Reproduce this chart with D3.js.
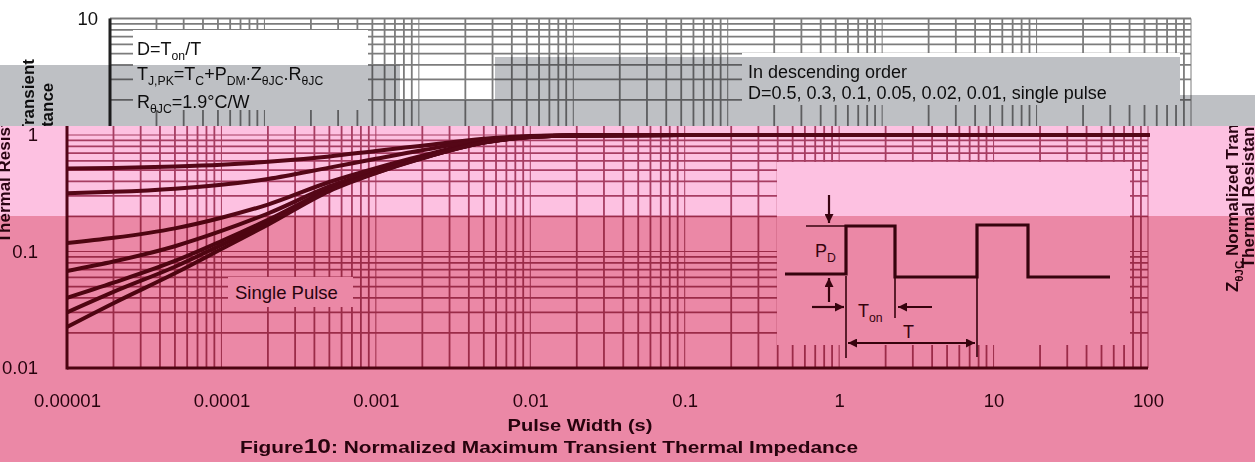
<!DOCTYPE html>
<html>
<head>
<meta charset="utf-8">
<script src="https://cdn.jsdelivr.net/npm/d3@7"></script>
<style>
  html, body { margin: 0; padding: 0; background: #fff; }
  svg { display: block; font-family: "Liberation Sans", Arial, sans-serif; }
</style>
</head>
<body>
<svg id="chart" width="1255" height="462"></svg>
<script>
// ---- data -------------------------------------------------------------
// pulse widths (s) where each curve is sampled
const pulseWidths = [1e-5, 2e-5, 5e-5, 1e-4, 2e-4, 5e-4, 1e-3, 2e-3, 5e-3, 1e-2, 2e-2, 1e-1, 1, 10, 100];
// normalized transient thermal impedance, one array per duty cycle
const zD050    = [0.515, 0.522, 0.537, 0.556, 0.588, 0.655, 0.730, 0.810, 0.930, 0.980, 0.995, 1, 1, 1, 1];
const zD030    = [0.316, 0.325, 0.346, 0.374, 0.419, 0.525, 0.625, 0.740, 0.900, 0.972, 0.993, 1, 1, 1, 1];
const zD010    = [0.118, 0.131, 0.158, 0.195, 0.253, 0.395, 0.520, 0.665, 0.874, 0.964, 0.991, 1, 1, 1, 1];
const zD005    = [0.068, 0.082, 0.111, 0.150, 0.212, 0.362, 0.495, 0.648, 0.867, 0.962, 0.990, 1, 1, 1, 1];
const zD002    = [0.040, 0.054, 0.083, 0.123, 0.187, 0.342, 0.480, 0.636, 0.863, 0.961, 0.990, 1, 1, 1, 1];
const zD001    = [0.030, 0.045, 0.074, 0.114, 0.178, 0.336, 0.474, 0.633, 0.861, 0.960, 0.990, 1, 1, 1, 1];
const zSingle  = [0.0225, 0.036, 0.065, 0.105, 0.170, 0.330, 0.470, 0.630, 0.860, 0.960, 0.990, 1, 1, 1, 1];
const dutyNames = ["0.5", "0.3", "0.1", "0.05", "0.02", "0.01", "single pulse"];
const seriesValues = [zD050, zD030, zD010, zD005, zD002, zD001, zSingle];

const xTickValues = [1e-5, 1e-4, 1e-3, 1e-2, 1e-1, 1, 10, 100];
const xTickLabels = ["0.00001", "0.0001", "0.001", "0.01", "0.1", "1", "10", "100"];
const yTickValues = [0.01, 0.1, 1, 10];
const yTickLabels = ["0.01", "0.1", "1", "10"];

// ---- layout -----------------------------------------------------------
const svg = d3.select("#chart");
const W = +svg.attr("width"), H = +svg.attr("height");
const plot = { left: 67, right: 1148, top: 18.5, bottom: 368 };
const splitY = 126;      // boundary between the top band and the pink body
const topShift = 43;     // horizontal offset of the top band

const x = d3.scaleLog().domain([1e-5, 100]).range([plot.left, plot.right]);
const y = d3.scaleLog().domain([0.01, 10]).range([plot.bottom, plot.top]);

function minorValues(e0, e1) {
  const out = [];
  for (let e = e0; e < e1; e++) for (let k = 2; k <= 9; k++) out.push(k * Math.pow(10, e));
  return out;
}

// rich text helper: parts = [[string, isSubscript], ...]
function rich(textSel, parts, size) {
  let sub = false;
  parts.forEach(([s, isSub]) => {
    const t = textSel.append("tspan").text(s);
    if (isSub && !sub) { t.attr("dy", size * 0.3).attr("font-size", size * 0.68); sub = true; }
    else if (isSub) { t.attr("font-size", size * 0.68); }
    else if (!isSub && sub) { t.attr("dy", -size * 0.3); sub = false; }
  });
  return textSel;
}

svg.append("rect").attr("width", W).attr("height", H).attr("fill", "#fff");

const defs = svg.append("defs");
defs.append("clipPath").attr("id", "clipTop")
  .append("rect").attr("x", 0).attr("y", 0).attr("width", W).attr("height", splitY);
defs.append("clipPath").attr("id", "clipBody")
  .append("rect").attr("x", 0).attr("y", splitY).attr("width", W).attr("height", H - splitY);
defs.append("clipPath").attr("id", "clipPlot")
  .append("rect").attr("x", plot.left).attr("y", plot.top - 4)
  .attr("width", plot.right - plot.left + 2).attr("height", plot.bottom - plot.top + 4);
defs.append("marker").attr("id", "arrow")
  .attr("viewBox", "0 0 10 10").attr("refX", 10).attr("refY", 5)
  .attr("markerWidth", 9).attr("markerHeight", 9).attr("markerUnits", "userSpaceOnUse")
  .attr("orient", "auto-start-reverse")
  .append("path").attr("d", "M0,0 L10,5 L0,10 z").attr("fill", "#3a0414");

// ---- the chart itself (grid, curves, frame, axes, y title) -------------
function drawChart(g, pal, opts) {
  const grid = g.append("g").attr("class", "grid");
  grid.selectAll("line.vmin").data(minorValues(-5, 2)).join("line").attr("class", "vmin")
    .attr("x1", d => x(d)).attr("x2", d => x(d)).attr("y1", plot.top).attr("y2", plot.bottom)
    .attr("stroke", pal.grid).attr("stroke-width", 1.8);
  grid.selectAll("line.vmaj").data(xTickValues).join("line").attr("class", "vmaj")
    .attr("x1", d => x(d)).attr("x2", d => x(d)).attr("y1", plot.top).attr("y2", plot.bottom)
    .attr("stroke", pal.grid).attr("stroke-width", 1);
  grid.selectAll("line.hmin").data(minorValues(-2, 1)).join("line").attr("class", "hmin")
    .attr("x1", plot.left).attr("x2", plot.right).attr("y1", d => y(d)).attr("y2", d => y(d))
    .attr("stroke", pal.grid).attr("stroke-width", 1.8);
  grid.selectAll("line.hmaj").data(yTickValues).join("line").attr("class", "hmaj")
    .attr("x1", plot.left).attr("x2", plot.right).attr("y1", d => y(d)).attr("y2", d => y(d))
    .attr("stroke", pal.grid).attr("stroke-width", d => d === 10 ? 2 : 1);

  const line = d3.line()
    .x((d, i) => x(pulseWidths[i]))
    .y(d => y(d))
    .curve(d3.curveMonotoneX);
  g.append("g").attr("clip-path", "url(#clipPlot)")
    .selectAll("path").data(seriesValues).join("path")
    .attr("d", line).attr("fill", "none")
    .attr("stroke", pal.curve).attr("stroke-width", 4).attr("stroke-linecap", "round");

  // frame: heavy left and bottom axis lines
  g.append("line").attr("x1", plot.left).attr("x2", plot.left)
    .attr("y1", plot.top).attr("y2", plot.bottom + 1.5)
    .attr("stroke", pal.frame).attr("stroke-width", 3);
  g.append("line").attr("x1", plot.left).attr("x2", plot.right)
    .attr("y1", plot.bottom).attr("y2", plot.bottom)
    .attr("stroke", pal.frame).attr("stroke-width", 3);

  if (opts.xLabels) {
    const xAxis = d3.axisBottom(x).tickValues(xTickValues)
      .tickFormat((d, i) => xTickLabels[i]).tickSize(0).tickPadding(26);
    g.append("g").attr("transform", `translate(0,${plot.bottom})`).call(xAxis)
      .call(a => a.select(".domain").remove())
      .attr("font-family", "Liberation Sans, Arial, sans-serif").attr("font-size", 18.5)
      .selectAll("text").attr("fill", pal.text);
  }

  const yAxis = d3.axisLeft(y).tickValues(opts.yTicks)
    .tickFormat(d => yTickLabels[yTickValues.indexOf(d)]).tickSize(0).tickPadding(opts.yPad);
  g.append("g").attr("transform", `translate(${plot.left},0)`).call(yAxis)
    .call(a => a.select(".domain").remove())
    .attr("font-family", "Liberation Sans, Arial, sans-serif").attr("font-size", 18.5)
    .selectAll("text").attr("fill", pal.text);

  // y title, two rotated lines
  const yt = g.append("g").attr("font-weight", "bold").attr("font-size", 17)
    .attr("fill", pal.text).attr("text-anchor", "middle");
  rich(yt.append("text").attr("transform", "translate(-9,163) rotate(-90)"),
    [["Z", false], ["\u03B8JC", true], [" Normalized Transient", false]], 17);
  yt.append("text").attr("transform", "translate(10,163) rotate(-90)").text("Thermal Resistance");
}

// ---- top band ----------------------------------------------------------
const topBand = svg.append("g").attr("clip-path", "url(#clipTop)");
drawChart(topBand.append("g").attr("transform", `translate(${topShift},0)`),
  { grid: "#7c7c7c", curve: "#55081a", frame: "#222", text: "#111" },
  { xLabels: false, yTicks: [10], yPad: 12 });

// formula and legend boxes
const note1 = topBand.append("g").attr("font-size", 18).attr("fill", "#111");
note1.append("rect").attr("x", 133).attr("y", 30).attr("width", 235).attr("height", 80).attr("fill", "#fff");
rich(note1.append("text").attr("x", 137).attr("y", 55), [["D=T", false], ["on", true], ["/T", false]], 18);
rich(note1.append("text").attr("x", 137).attr("y", 80),
  [["T", false], ["J,PK", true], ["=T", false], ["C", true], ["+P", false], ["DM", true],
   [".Z", false], ["\u03B8JC", true], [".R", false], ["\u03B8JC", true]], 18);
rich(note1.append("text").attr("x", 137).attr("y", 108),
  [["R", false], ["\u03B8JC", true], ["=1.9\u00B0C/W", false]], 18);

const note2 = topBand.append("g").attr("font-size", 18).attr("fill", "#111");
note2.append("rect").attr("x", 742).attr("y", 53).attr("width", 438).attr("height", 52).attr("fill", "#fff");
note2.append("text").attr("x", 748).attr("y", 78).text("In descending order");
note2.append("text").attr("x", 748).attr("y", 99).text("D=" + dutyNames.join(", "));

// grey wash over the lower part of the top band
const greyBands = [[0, 65, 400], [400, 100, 495], [495, 57, 1180], [1180, 95, W]];
svg.append("g").selectAll("rect").data(greyBands).join("rect")
  .attr("x", d => d[0]).attr("y", d => d[1]).attr("width", d => d[2] - d[0])
  .attr("height", d => splitY - d[1])
  .attr("fill", "#bec0c4").style("mix-blend-mode", "multiply");

// ---- pink body ----------------------------------------------------------
const ink = "#3a0414";
const body = svg.append("g").attr("clip-path", "url(#clipBody)");
drawChart(body.append("g"), { grid: "#a8506f", curve: "#55081a", frame: "#52061a", text: "#2a0414" },
  { xLabels: true, yTicks: [0.01, 0.1, 1], yPad: 29 });

// "Single Pulse" callout
body.append("rect").attr("x", 228).attr("y", 277).attr("width", 125).attr("height", 30).attr("fill", "#fff");
body.append("text").attr("x", 235).attr("y", 299).attr("font-size", 18.5).attr("fill", "#2a0414").text("Single Pulse");

// pulse-train inset explaining D, Ton and T
const inset = body.append("g").attr("transform", "translate(777,162)");
inset.append("rect").attr("width", 353).attr("height", 183).attr("fill", "#fff");
const wave = [[8, 112], [69, 112], [69, 64], [118, 64], [118, 115], [200, 115],
              [200, 63], [251, 63], [251, 115], [333, 115]];
inset.append("path").attr("d", d3.line()(wave)).attr("fill", "none")
  .attr("stroke", ink).attr("stroke-width", 3.2);
const guides = [[29, 64, 68, 64], [69, 114, 69, 196], [118, 114, 118, 156], [200, 114, 200, 195]];
inset.selectAll("line.guide").data(guides).join("line").attr("class", "guide")
  .attr("x1", d => d[0]).attr("y1", d => d[1]).attr("x2", d => d[2]).attr("y2", d => d[3])
  .attr("stroke", ink).attr("stroke-width", 1.6);
const arrows = [[52, 33, 52, 61], [52, 140, 52, 116], [35, 145, 67, 145], [155, 145, 121, 145]];
inset.selectAll("line.arrow").data(arrows).join("line").attr("class", "arrow")
  .attr("x1", d => d[0]).attr("y1", d => d[1]).attr("x2", d => d[2]).attr("y2", d => d[3])
  .attr("stroke", ink).attr("stroke-width", 2.2).attr("marker-end", "url(#arrow)");
inset.append("line").attr("x1", 71).attr("y1", 181).attr("x2", 198).attr("y2", 181)
  .attr("stroke", ink).attr("stroke-width", 2.2)
  .attr("marker-start", "url(#arrow)").attr("marker-end", "url(#arrow)");
rich(inset.append("text").attr("x", 38).attr("y", 95).attr("font-size", 18).attr("fill", ink),
  [["P", false], ["D", true]], 18);
rich(inset.append("text").attr("x", 81).attr("y", 155).attr("font-size", 18).attr("fill", ink),
  [["T", false], ["on", true]], 18);
inset.append("text").attr("x", 126).attr("y", 176).attr("font-size", 18).attr("fill", ink).text("T");

// right-hand axis title
const rt = body.append("g").attr("font-weight", "bold").attr("font-size", 17)
  .attr("fill", "#2a0414").attr("text-anchor", "middle");
rich(rt.append("text").attr("transform", "translate(1238,188) rotate(-90)"),
  [["Z", false], ["\u03B8JC", true], [" Normalized Transient", false]], 17);
rt.append("text").attr("transform", "translate(1254,188) rotate(-90)").text("Thermal Resistance");

// x title and figure caption
body.append("text").attr("x", 580).attr("y", 431).attr("text-anchor", "middle")
  .attr("font-weight", "bold").attr("font-size", 17).attr("fill", "#2a0414")
  .attr("textLength", 145).attr("lengthAdjust", "spacingAndGlyphs").text("Pulse Width (s)");
const cap = body.append("text").attr("x", 240).attr("y", 453)
  .attr("font-weight", "bold").attr("font-size", 17).attr("fill", "#2a0414")
  .attr("textLength", 618).attr("lengthAdjust", "spacingAndGlyphs");
cap.append("tspan").text("Figure");
cap.append("tspan").attr("font-size", 20).text("10");
cap.append("tspan").text(": Normalized Maximum Transient Thermal Impedance");

// pink wash over the body
const pinkBands = [[splitY, 216, "#fdc1e1"], [216, H, "#eb88a6"]];
svg.append("g").selectAll("rect").data(pinkBands).join("rect")
  .attr("x", 0).attr("y", d => d[0]).attr("width", W).attr("height", d => d[1] - d[0])
  .attr("fill", d => d[2]).style("mix-blend-mode", "multiply");
</script>
</body>
</html>
